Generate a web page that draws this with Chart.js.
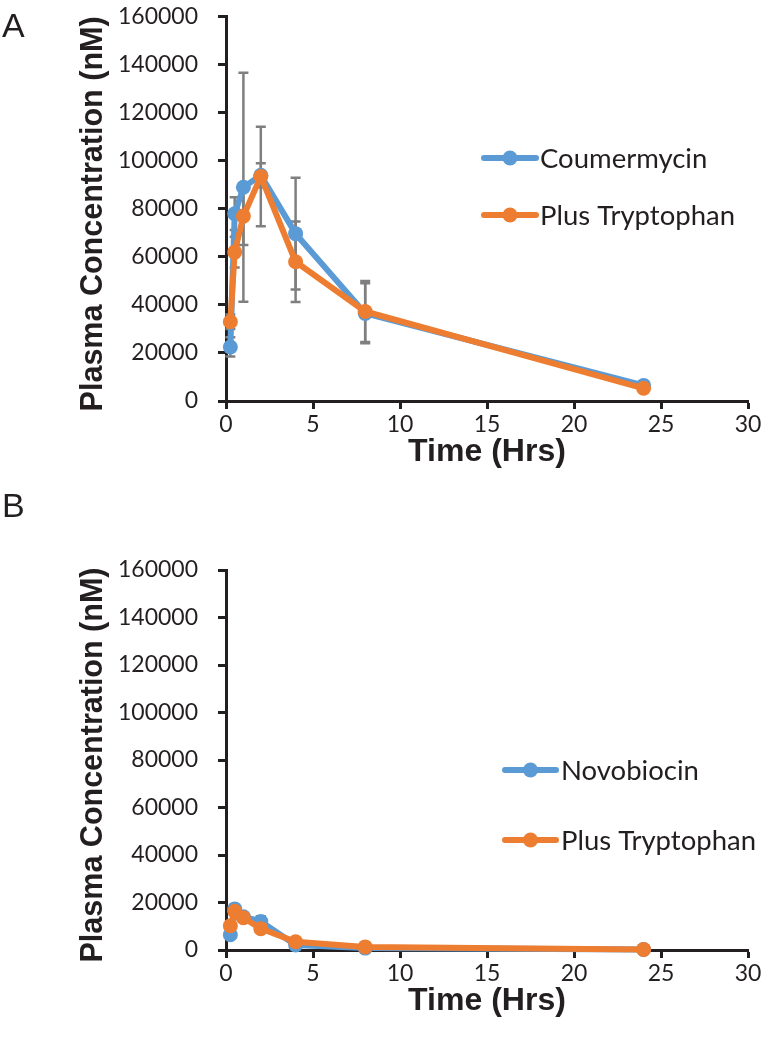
<!DOCTYPE html>
<html><head><meta charset="utf-8">
<script src="https://cdn.jsdelivr.net/npm/chart.js@4"></script>
<style>
body{margin:0;background:#fff;width:764px;height:1049px;position:relative;overflow:hidden}
.panel{position:absolute;left:0;width:764px}
.lab{position:absolute;font-family:'Liberation Sans',Arial,sans-serif;font-size:34px;color:#231f20;line-height:1}
canvas{display:block}
</style></head><body>
<div class="panel" style="top:-17px;height:517px"><canvas id="cA" width="764" height="517"></canvas></div>
<div class="panel" style="top:500px;height:549px"><canvas id="cB" width="764" height="549"></canvas></div>
<div class="lab" style="left:2px;top:8px">A</div>
<div class="lab" style="left:2px;top:488px">B</div>
<script>
// ---- data ----
const timeHrs = [0.25, 0.5, 1, 2, 4, 8, 24];
const xTicks = [0, 5, 10, 15, 20, 25, 30];
const yTicks = [0, 20000, 40000, 60000, 80000, 100000, 120000, 140000, 160000];

const coumermycin    = [22500, 78000, 89000, 94000, 69700, 36500, 6500];
const coumermycinErr = [4000, 6800, 47700, 5000, 23300, 12500, 1000];
const coumTrp        = [33000, 62000, 77000, 93500, 58000, 37300, 5300];
const coumTrpErr     = [3000, 6400, 12000, 20700, 16800, 12700, 800];

const novobiocin     = [6400, 17300, 14000, 12000, 2100, 800, 200];
const novobiocinErr  = [1500, 1500, 1500, 2200, 800, 300, 100];
const novoTrp        = [10200, 16300, 13600, 9000, 3500, 1300, 200];
const novoTrpErr     = [1500, 1500, 1500, 1500, 700, 300, 100];

const labelsA = ['Coumermycin', 'Plus Tryptophan'];
const labelsB = ['Novobiocin', 'Plus Tryptophan'];
const xTitle = 'Time (Hrs)';
const yTitle = 'Plasma Concentration (nM)';

// ---- style ----
const BLUE = '#5b9bd5', ORANGE = '#ed7d31', INK = '#231f20', ERR = '#7f7f7f';
const TICK_FONT = {family: 'Lato', size: 23};
const TITLE_FONT = "bold 31px 'Liberation Sans', Arial, sans-serif";

const errorBars = {
  id: 'errorBars',
  beforeDatasetsDraw(chart) {
    const {ctx, scales: {x, y}} = chart;
    ctx.save();
    ctx.strokeStyle = ERR; ctx.lineWidth = 2.5;
    chart.data.datasets.forEach(ds => {
      ds.data.forEach((p, i) => {
        const e = ds.errors[i];
        const px = x.getPixelForValue(p.x);
        const t = y.getPixelForValue(p.y + e), b = y.getPixelForValue(Math.max(0, p.y - e));
        ctx.beginPath();
        ctx.moveTo(px, t); ctx.lineTo(px, b);
        ctx.moveTo(px - 5, t); ctx.lineTo(px + 5, t);
        ctx.moveTo(px - 5, b); ctx.lineTo(px + 5, b);
        ctx.stroke();
      });
    });
    ctx.restore();
  }
};

const sideLegend = {
  id: 'sideLegend',
  afterDraw(chart, args, o) {
    const ctx = chart.ctx;
    ctx.save();
    chart.data.datasets.forEach((ds, i) => {
      const yy = o.ys[i];
      ctx.strokeStyle = ds.borderColor; ctx.lineWidth = 6; ctx.lineCap = 'round';
      ctx.beginPath(); ctx.moveTo(o.x0, yy); ctx.lineTo(o.x1, yy); ctx.stroke();
      ctx.fillStyle = ds.borderColor;
      ctx.beginPath(); ctx.arc((o.x0 + o.x1) / 2, yy, 7.5, 0, Math.PI * 2); ctx.fill();
      ctx.fillStyle = INK; ctx.font = '27.5px Lato'; ctx.textBaseline = 'middle'; ctx.textAlign = 'left';
      ctx.fillText(ds.label, o.tx, yy + 1);
    });
    ctx.restore();
  }
};

// axis titles in a narrow bold face (horizontally condensed)
const axisTitles = {
  id: 'axisTitles',
  afterDraw(chart, args, o) {
    const ctx = chart.ctx, ca = chart.chartArea;
    ctx.save();
    ctx.font = TITLE_FONT; ctx.fillStyle = INK; ctx.textAlign = 'center'; ctx.textBaseline = 'middle';
    const sy = o.yLen / ctx.measureText(yTitle).width;
    const sx = o.xLen / ctx.measureText(xTitle).width;
    ctx.save();
    ctx.translate(o.yX, (ca.top + ca.bottom) / 2 + o.yShift);
    ctx.rotate(-Math.PI / 2); ctx.scale(sy, 1);
    ctx.fillText(yTitle, 0, 0);
    ctx.restore();
    ctx.save();
    ctx.translate((ca.left + ca.right) / 2, ca.bottom + o.xDy);
    ctx.scale(sx, 1);
    ctx.fillText(xTitle, 0, 0);
    ctx.restore();
    ctx.restore();
  }
};

function pts(vals) { return timeHrs.map((t, i) => ({x: t, y: vals[i]})); }
function ds(label, vals, errs, color, order) {
  return {label, data: pts(vals), errors: errs, borderColor: color, backgroundColor: color,
    borderWidth: 6, pointRadius: 7.5, pointHoverRadius: 7.5, pointBorderWidth: 0, tension: 0, order, clip: false};
}

function makeChart(id, datasets, padTop, bottom, left, legendOpts, titleOpts) {
  const canvas = document.getElementById(id);
  const H = canvas.height;
  return new Chart(canvas, {
    type: 'line',
    data: {datasets},
    options: {
      responsive: false, animation: false, devicePixelRatio: 1,
      layout: {autoPadding: false, padding: {top: padTop, left: 74, right: 16, bottom: 0}},
      plugins: {legend: {display: false}, tooltip: {enabled: false}, sideLegend: legendOpts, axisTitles: titleOpts},
      scales: {
        x: {
          type: 'linear', min: 0, max: 30,
          afterBuildTicks(s) { s.ticks = xTicks.map(v => ({value: v})); },
          ticks: {color: INK, font: TICK_FONT, padding: 2, maxRotation: 0, callback: v => String(v)},
          grid: {drawOnChartArea: false, drawTicks: true, tickLength: 8, tickWidth: 3, tickColor: INK},
          border: {color: INK, width: 3},
          afterFit(s) { s.height = H - bottom; }
        },
        y: {
          type: 'linear', min: 0, max: 160000,
          afterBuildTicks(s) { s.ticks = yTicks.map(v => ({value: v})); },
          ticks: {color: INK, font: TICK_FONT, padding: 20, callback: v => String(v)},
          grid: {drawOnChartArea: false, drawTicks: true, tickLength: 8, tickWidth: 3, tickColor: INK},
          border: {color: INK, width: 3},
          afterFit(s) { s.width = left - 74; }
        }
      }
    },
    plugins: [errorBars, sideLegend, axisTitles]
  });
}

document.fonts.load('23px Lato').catch(() => {}).finally(() => {
  // panel A canvas sits 17px above the page top
  makeChart('cA', [
    ds(labelsA[0], coumermycin, coumermycinErr, BLUE, 2),
    ds(labelsA[1], coumTrp, coumTrpErr, ORANGE, 1)
  ], 0, 418, 226, {x0: 484, x1: 536, tx: 540, ys: [175, 232]},
  {yX: 93, yShift: 5, yLen: 395, xLen: 158, xDy: 51});
  makeChart('cB', [
    ds(labelsB[0], novobiocin, novobiocinErr, BLUE, 2),
    ds(labelsB[1], novoTrp, novoTrpErr, ORANGE, 1)
  ], 70, 450, 226, {x0: 505, x1: 556, tx: 561, ys: [270, 340]},
  {yX: 93, yShift: 5, yLen: 395, xLen: 158, xDy: 51});
});
</script>
</body></html>
